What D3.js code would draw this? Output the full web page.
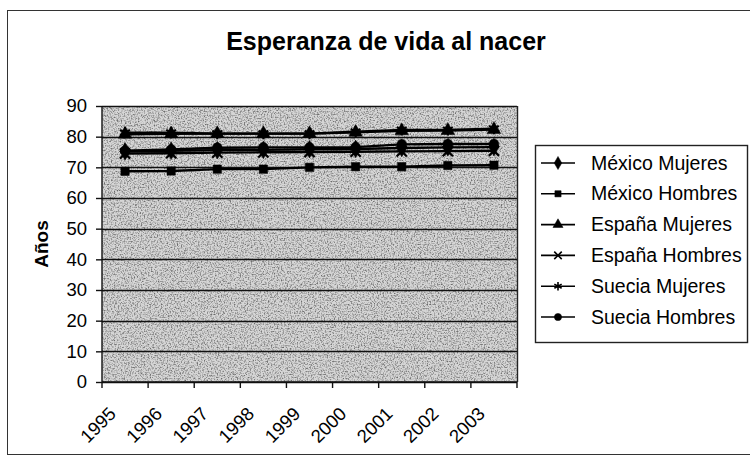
<!DOCTYPE html>
<html>
<head>
<meta charset="utf-8">
<script src="https://cdn.jsdelivr.net/npm/d3@7"></script>
<style>
  body { margin: 0; background: #fff; }
  text { font-family: "Liberation Sans", Arial, sans-serif; fill: #000; }
</style>
</head>
<body>
<script>
// Data
var years = ["1995", "1996", "1997", "1998", "1999", "2000", "2001", "2002", "2003"];
var seriesNames = ["México Mujeres", "México Hombres", "España Mujeres", "España Hombres", "Suecia Mujeres", "Suecia Hombres"];
var mexicoMujeres = [75.2, 75.4, 75.6, 75.7, 75.9, 76.0, 76.3, 76.5, 76.6];
var mexicoHombres = [68.7, 68.8, 69.4, 69.4, 70.0, 70.2, 70.2, 70.6, 70.7];
var espanaMujeres = [80.8, 80.9, 81.0, 81.0, 81.0, 81.4, 81.9, 82.0, 82.3];
var espanaHombres = [74.5, 74.6, 74.8, 74.9, 75.0, 75.1, 75.2, 75.3, 75.4];
var sueciaMujeres = [81.3, 81.3, 81.0, 81.0, 81.0, 81.6, 82.2, 82.2, 82.6];
var sueciaHombres = [75.4, 75.8, 76.4, 76.5, 76.5, 76.6, 77.5, 77.6, 77.6];
var yTicks = [0, 10, 20, 30, 40, 50, 60, 70, 80, 90];

var allValues = [mexicoMujeres, mexicoHombres, espanaMujeres, espanaHombres, sueciaMujeres, sueciaHombres];
var symbols = [d3.symbolDiamond, d3.symbolSquare, d3.symbolTriangle, d3.symbolX, d3.symbolAsterisk, d3.symbolCircle];
var strokeSym = [false, false, false, true, true, false];
var symSize = [90, 70, 80, 70, 90, 75];

var svg = d3.select("body")
            .append("svg")
            .attr("width", 750)
            .attr("height", 463);

// texture filter for the plot area
var defs = svg.append("defs");
var f = defs.append("filter").attr("id", "grain")
  .attr("x", 0).attr("y", 0).attr("width", 1).attr("height", 1);
f.append("feTurbulence").attr("type", "fractalNoise")
  .attr("baseFrequency", 0.7).attr("numOctaves", 2).attr("seed", 3);
f.append("feColorMatrix").attr("type", "matrix")
  .attr("values", "0 0 0 0 0  0 0 0 0 0  0 0 0 0 0  0 0 0 2.6 -1.15");
f.append("feComposite").attr("in2", "SourceGraphic").attr("operator", "in");

// outer chart border
svg.append("rect")
  .attr("x", 7.5).attr("y", 10.5)
  .attr("width", 760).attr("height", 444)
  .attr("fill", "none").attr("stroke", "#333").attr("stroke-width", 1);

var margin = {top: 106, left: 102, right: 517, bottom: 382};

var x = d3.scaleBand().domain(years).range([margin.left, margin.right]);
var y = d3.scaleLinear().domain([0, 90]).range([margin.bottom, margin.top]);

// Title
svg.append("text")
  .attr("x", 386)
  .attr("y", 50)
  .attr("text-anchor", "middle")
  .style("font-size", "25px")
  .style("font-weight", "bold")
  .text("Esperanza de vida al nacer");

// plot area
svg.append("rect")
  .attr("x", margin.left).attr("y", margin.top)
  .attr("width", margin.right - margin.left).attr("height", margin.bottom - margin.top)
  .attr("fill", "#d6d6d6");
svg.append("rect")
  .attr("x", margin.left).attr("y", margin.top)
  .attr("width", margin.right - margin.left).attr("height", margin.bottom - margin.top)
  .attr("fill", "#666").attr("opacity", 0.5)
  .attr("filter", "url(#grain)");

// gridlines
svg.append("g")
  .selectAll("line")
  .data(yTicks)
  .enter().append("line")
  .attr("x1", margin.left).attr("x2", margin.right)
  .attr("y1", function(d) { return Math.round(y(d)) + 0.5; })
  .attr("y2", function(d) { return Math.round(y(d)) + 0.5; })
  .attr("stroke", "#111").attr("stroke-width", 1.4);

svg.append("line")
  .attr("x1", margin.right + 0.5).attr("x2", margin.right + 0.5)
  .attr("y1", margin.top).attr("y2", margin.bottom)
  .attr("stroke", "#222").attr("stroke-width", 1.4);

// y axis
var yAxis = svg.append("g")
  .attr("transform", "translate(" + margin.left + ",0)")
  .call(d3.axisLeft(y).tickValues(yTicks).tickSize(6).tickPadding(9));
yAxis.selectAll("text").style("font-size", "18.5px").attr("fill", "#000");
yAxis.selectAll("line, path").attr("stroke", "#111").attr("stroke-width", 1.4);
yAxis.select(".domain").attr("d", "M0," + margin.top + "V" + margin.bottom);

// x axis with ticks between categories
var xAxis = svg.append("g").attr("transform", "translate(0," + margin.bottom + ")");
xAxis.append("line")
  .attr("x1", margin.left).attr("x2", margin.right)
  .attr("stroke", "#111").attr("stroke-width", 1.6);
xAxis.selectAll(".tk")
  .data(years.concat(["end"]))
  .enter().append("line")
  .attr("x1", function(d, i) { return i < years.length ? x(d) : margin.right; })
  .attr("x2", function(d, i) { return i < years.length ? x(d) : margin.right; })
  .attr("y1", 0).attr("y2", 6)
  .attr("stroke", "#111").attr("stroke-width", 1.4);
xAxis.selectAll(".lbl")
  .data(years)
  .enter().append("text")
  .attr("text-anchor", "end")
  .attr("transform", function(d) {
    return "translate(" + (x(d) + x.bandwidth() / 2 - 8) + ",33) rotate(-45)";
  })
  .style("font-size", "18.5px")
  .text(function(d) { return d; });

// Y axis label
svg.append("text")
  .attr("transform", "translate(48,244) rotate(-90)")
  .attr("text-anchor", "middle")
  .style("font-size", "19px")
  .style("font-weight", "bold")
  .text("Años");

// series lines and markers
var line = d3.line()
  .x(function(d, i) { return x(years[i]) + x.bandwidth() / 2; })
  .y(function(d) { return y(d); });

allValues.forEach(function(vals, s) {
  svg.append("path")
    .attr("d", line(vals))
    .attr("fill", "none")
    .attr("stroke", "#000")
    .attr("stroke-width", 2.4);
  svg.selectAll(".m" + s)
    .data(vals)
    .enter().append("path")
    .attr("transform", function(d, i) {
      return "translate(" + (x(years[i]) + x.bandwidth() / 2) + "," + y(d) + ")";
    })
    .attr("d", d3.symbol().type(symbols[s]).size(symSize[s]))
    .attr("fill", strokeSym[s] ? "none" : "#000")
    .attr("stroke", "#000")
    .attr("stroke-width", strokeSym[s] ? 2.2 : 0.5);
});

// Legend
var legend = svg.append("g");
legend.append("rect")
  .attr("x", 535.5).attr("y", 145.5)
  .attr("width", 212).attr("height", 197)
  .attr("fill", "#fff").attr("stroke", "#222").attr("stroke-width", 1.4);

seriesNames.forEach(function(name, s) {
  var ly = 163 + s * 30.8;
  legend.append("line")
    .attr("x1", 541).attr("x2", 575)
    .attr("y1", ly).attr("y2", ly)
    .attr("stroke", "#000").attr("stroke-width", 1.6);
  legend.append("path")
    .attr("transform", "translate(558," + ly + ")")
    .attr("d", d3.symbol().type(symbols[s]).size(symSize[s] * 0.55))
    .attr("fill", strokeSym[s] ? "none" : "#000")
    .attr("stroke", "#000")
    .attr("stroke-width", strokeSym[s] ? 1.6 : 0.5);
  legend.append("text")
    .attr("x", 591).attr("y", ly + 6.5)
    .style("font-size", "19.5px")
    .text(name);
});
</script>
</body>
</html>
